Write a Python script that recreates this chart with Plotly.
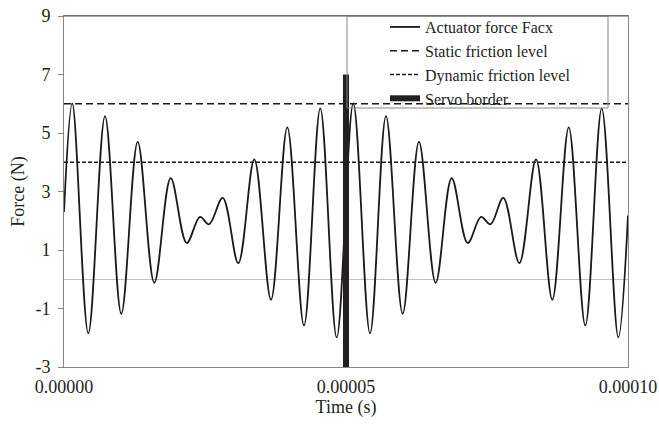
import plotly.graph_objects as go

# ---- data ----
# extrema of the actuator force (time in microseconds, force in N)
time_us = [0.00, 1.47, 4.31, 7.27, 10.16, 13.07, 16.01, 18.92, 21.76, 24.11, 25.71,
           28.14, 30.90, 33.74, 36.70, 39.59, 42.55, 45.44, 48.35,
           51.29, 54.26, 57.09, 60.05, 62.94, 65.90, 68.74, 71.58, 73.94, 75.62,
           77.89, 80.73, 83.69, 86.58, 89.49, 92.43, 95.34, 98.28, 100.00]
force_n = [2.30, 6.01, -1.85, 5.58, -1.18, 4.70, -0.12, 3.46, 1.24, 2.13, 1.88,
           2.78, 0.55, 4.10, -0.70, 5.19, -1.58, 5.84, -1.99,
           6.01, -1.85, 5.58, -1.18, 4.70, -0.12, 3.46, 1.24, 2.13, 1.88,
           2.78, 0.55, 4.10, -0.70, 5.19, -1.58, 5.84, -1.99, 2.18]

static_level = 6
dynamic_level = 4
servo_time = 0.00005
servo_force = [-3, 7]
x_range = [0.0, 0.0001]

x_ticks = [0.0, 0.00005, 0.0001]
x_ticktext = ["0.00000", "0.00005", "0.00010"]
y_ticks = [-3, -1, 1, 3, 5, 7, 9]
y_ticktext = ["-3", "-1", "1", "3", "5", "7", "9"]

time_s = [t * 1e-6 for t in time_us]

FONT = "Liberation Serif, Times New Roman, serif"
TXT = "#231f20"
AX = "#868686"

fig = go.Figure()
fig.add_trace(go.Scatter(x=time_s, y=force_n, mode="lines", name="Actuator force Facx",
                         line=dict(color="#1a1a1a", width=1.8, shape="spline", smoothing=1.0)))
fig.add_trace(go.Scatter(x=x_range, y=[static_level] * 2, mode="lines", name="Static friction level",
                         line=dict(color="#1a1a1a", width=1.6, dash="7px,4px")))
fig.add_trace(go.Scatter(x=x_range, y=[dynamic_level] * 2, mode="lines", name="Dynamic friction level",
                         line=dict(color="#1a1a1a", width=1.6, dash="4px,2px")))
fig.add_trace(go.Scatter(x=[servo_time] * 2, y=servo_force, mode="lines", name="Servo border",
                         line=dict(color="#231f20", width=6)))

L, R, T, B = 64, 31, 16, 59
W, H = 659, 426
pw, ph = W - L - R, H - T - B

def px_x(p):
    return (p - L) / pw

def px_y(p):
    return (H - B - p) / ph

fig.add_shape(type="rect", xref="paper", yref="paper",
              x0=px_x(347), x1=px_x(608), y0=px_y(108), y1=1,
              line=dict(color=AX, width=1), fillcolor="rgba(0,0,0,0)", layer="above")
# darker top frame edge as in the reference
fig.add_shape(type="line", xref="paper", yref="paper", x0=0, x1=1, y0=1, y1=1,
              line=dict(color="#5a5a5a", width=1), layer="above")

fig.update_layout(
    width=W, height=H,
    margin=dict(l=L, r=R, t=T, b=B, autoexpand=False),
    paper_bgcolor="white", plot_bgcolor="white",
    font=dict(family=FONT, color=TXT, size=18),
    showlegend=True,
    legend=dict(x=px_x(385), y=px_y(10), xanchor="left", yanchor="top",
                bgcolor="rgba(0,0,0,0)", borderwidth=0,
                font=dict(family=FONT, size=16, color=TXT)),
    xaxis=dict(range=x_range, tickvals=x_ticks, ticktext=x_ticktext,
               showgrid=False, zeroline=False, showline=True, linecolor=AX, linewidth=1,
               mirror=True, ticks="", tickfont=dict(size=18), ticklabelstandoff=3,
               title=dict(text="Time (s)", font=dict(size=18), standoff=3)),
    yaxis=dict(range=[-3, 9], tickvals=y_ticks, ticktext=y_ticktext,
               showgrid=False, zeroline=True, zerolinecolor="#c0c0c0", zerolinewidth=1,
               showline=True, linecolor=AX, linewidth=1, mirror=True,
               ticks="outside", ticklen=5, tickcolor=AX, tickfont=dict(size=18),
               ticklabelstandoff=4,
               title=dict(text="Force (N)", font=dict(size=18), standoff=6)),
)

fig.write_html("out.html", config={"displayModeBar": False},
               post_script="document.body.style.margin='0';document.body.style.overflow='hidden';")
